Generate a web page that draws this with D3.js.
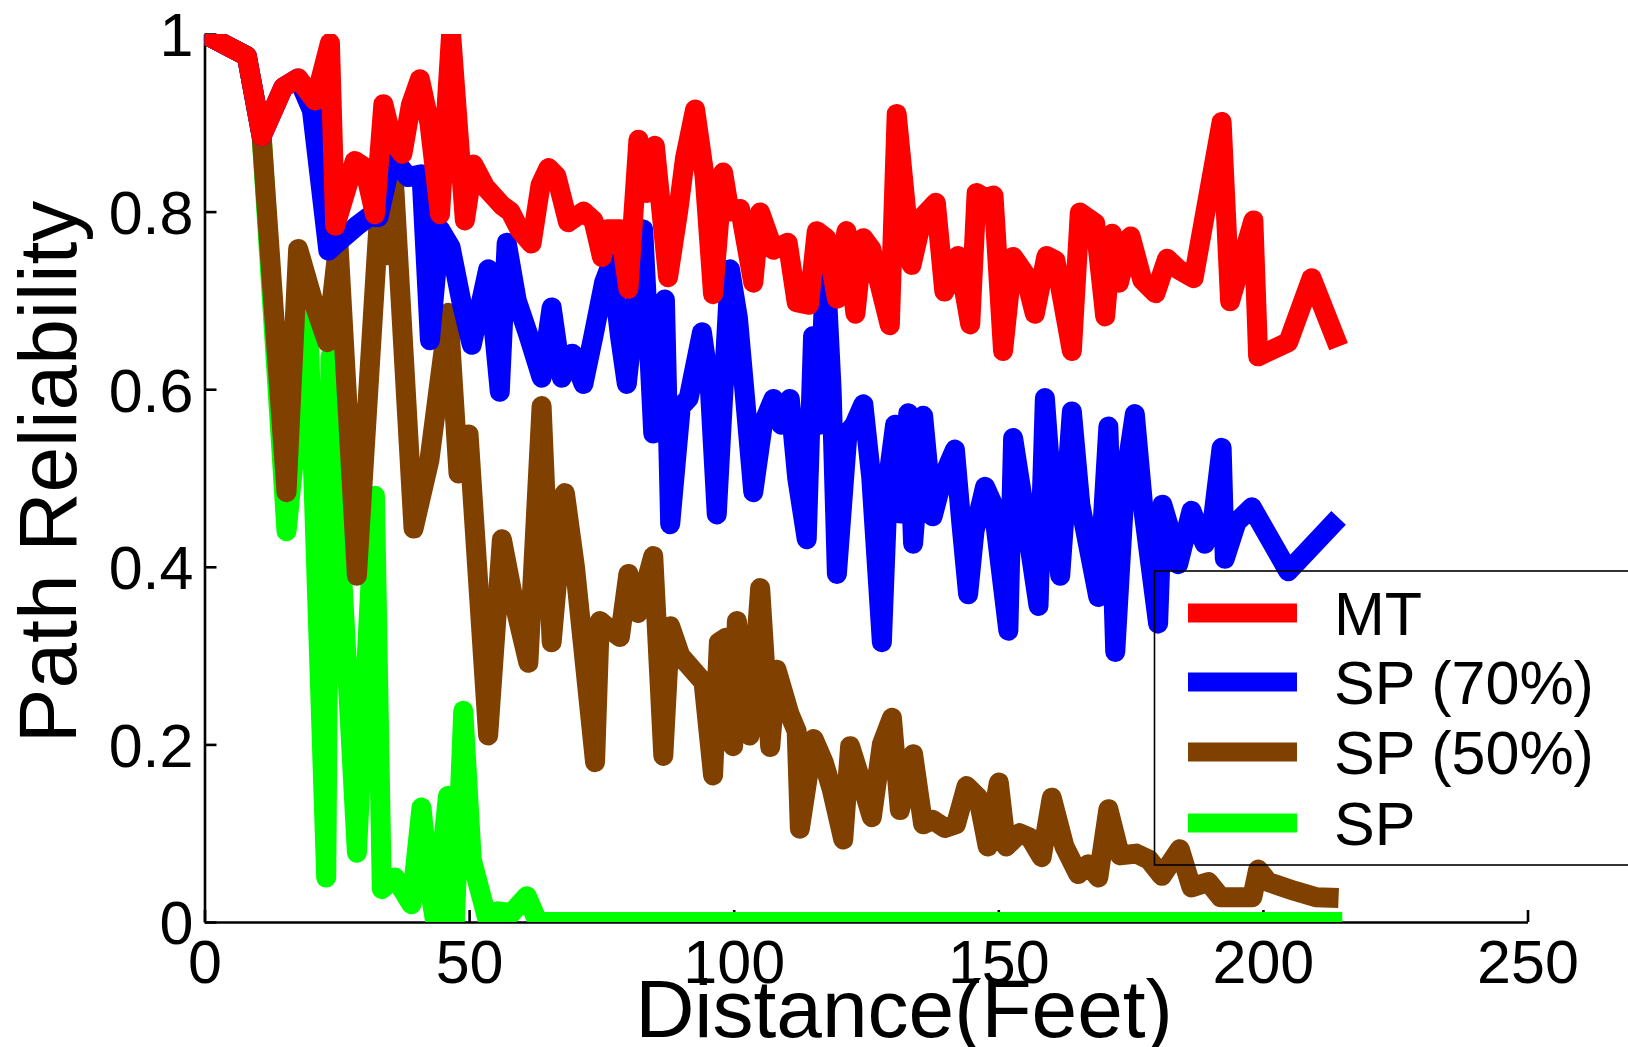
<!DOCTYPE html>
<html>
<head>
<meta charset="utf-8">
<script src="https://cdn.jsdelivr.net/npm/d3@7"></script>
<style>
  html, body { margin: 0; padding: 0; background: #fff; }
  svg { display: block; }
  text { font-family: "Liberation Sans", Arial, Helvetica, sans-serif; fill: #000; }
</style>
</head>
<body>
<svg id="chart" width="1628" height="1047"></svg>
<script>
// ---------------- data ----------------
const seriesNames = ["MT", "SP (70%)", "SP (50%)", "SP"];
const seriesColors = ["#ff0000", "#0000ff", "#804000", "#00ff00"];

const xTicks = [0, 50, 100, 150, 200, 250];
const yTicks = [0, 0.2, 0.4, 0.6, 0.8, 1];
const xLabel = "Distance(Feet)";
const yLabel = "Path Reliability";

const mtX = [0, 8, 10.8, 14.9, 17.7, 20.9, 23.7, 24.7, 28.4, 30.2, 32.2, 33.8, 35.5, 37.4, 39, 40.7, 42.5, 44.5, 46.6, 49.2,
  50.8, 53, 56.2, 57.8, 59.6, 61.8, 63.5, 65, 66.5, 68.7, 71.6, 73.5, 75.1, 76.1, 78.5, 80.1, 82, 83.6, 85.1, 87.6,
  89.5, 90.8, 92.7, 94.5, 96.1, 98, 99.2, 101.2, 103.7, 105, 107.5, 110.2, 111.9, 114.2, 115.7, 117.5, 119.5, 121.3, 123, 124.5,
  126, 127.5, 129.5, 130.8, 133.6, 135.7, 138.2, 139.8, 142.4, 144.7, 145.9, 147.5, 149.1, 150.9, 152.8, 155, 156.9, 159.1, 160.8, 163.9,
  165.4, 168.3, 170.2, 171.5, 172.8, 175, 177.2, 179.7, 181.9, 184, 186.9, 192.2, 193.8, 198.2, 199.1, 204.8, 209.2, 214.3];
const mtY = [1.0, 0.975, 0.885, 0.94, 0.95, 0.925, 0.99, 0.784, 0.857, 0.85, 0.797, 0.921, 0.88, 0.865, 0.92, 0.949, 0.90, 0.797, 1.0, 0.79,
  0.853, 0.828, 0.807, 0.80, 0.779, 0.764, 0.83, 0.849, 0.84, 0.788, 0.80, 0.79, 0.749, 0.78, 0.78, 0.713, 0.881, 0.821, 0.874, 0.726,
  0.80, 0.86, 0.915, 0.84, 0.707, 0.844, 0.80, 0.803, 0.72, 0.799, 0.757, 0.765, 0.698, 0.695, 0.778, 0.77, 0.702, 0.778, 0.685, 0.77,
  0.758, 0.72, 0.672, 0.91, 0.74, 0.794, 0.81, 0.71, 0.75, 0.673, 0.821, 0.815, 0.818, 0.643, 0.749, 0.73, 0.685, 0.75, 0.745, 0.643,
  0.799, 0.787, 0.682, 0.775, 0.72, 0.772, 0.723, 0.708, 0.747, 0.735, 0.725, 0.901, 0.699, 0.79, 0.637, 0.653, 0.725, 0.648];

const sp70X = [0, 8, 10.8, 14.9, 17.7, 20.3, 23.4, 25.3, 29, 31, 32.9, 35.4, 38.5, 41, 42.6, 44.5, 46.5, 48.5, 50.5, 53.6,
  55.8, 57.1, 59, 61.2, 63.7, 65.6, 67.5, 69.5, 71.6, 73.5, 75.5, 76.9, 78.5, 79.8, 81.5, 82.9, 84.8, 87, 88, 90,
  91.5, 94, 95.5, 96.8, 99.3, 100.8, 102, 103.7, 105.5, 107.5, 109, 110.6, 112, 113.8, 115, 116.2, 117.3, 118.5, 119.5, 121.5,
  122.8, 124.5, 126, 128, 129.2, 130.5, 131.5, 133, 133.9, 135.8, 137.6, 139.5, 141.8, 143, 144.3, 145.5, 147.5, 149, 151.9, 152.8,
  154.5, 157.6, 158.8, 160.3, 161.7, 163.9, 165.5, 168.9, 170.8, 172.1, 174, 175.8, 177.5, 180.2, 181, 182.5, 184, 186.5, 189, 190.5,
  192.2, 192.8, 195, 197.9, 204.8, 214.3];
const sp70Y = [1.0, 0.975, 0.885, 0.94, 0.95, 0.914, 0.756, 0.766, 0.785, 0.794, 0.794, 0.861, 0.839, 0.842, 0.655, 0.78, 0.76, 0.70, 0.65, 0.735,
  0.597, 0.765, 0.70, 0.661, 0.613, 0.692, 0.613, 0.64, 0.606, 0.66, 0.72, 0.742, 0.66, 0.606, 0.70, 0.78, 0.55, 0.701, 0.448, 0.58,
  0.59, 0.664, 0.60, 0.459, 0.735, 0.68, 0.60, 0.484, 0.56, 0.589, 0.56, 0.589, 0.50, 0.431, 0.66, 0.56, 0.745, 0.60, 0.392, 0.55,
  0.56, 0.583, 0.50, 0.315, 0.50, 0.56, 0.46, 0.573, 0.426, 0.57, 0.457, 0.50, 0.532, 0.45, 0.369, 0.44, 0.49, 0.47, 0.328, 0.545,
  0.48, 0.356, 0.59, 0.47, 0.39, 0.575, 0.47, 0.366, 0.558, 0.304, 0.50, 0.572, 0.46, 0.336, 0.47, 0.44, 0.403, 0.463, 0.426, 0.45,
  0.534, 0.409, 0.45, 0.467, 0.395, 0.455];

const sp50X = [0, 8, 10.8, 15.5, 17.7, 20.5, 23.2, 25.3, 28.8, 32.9, 33.8, 35.6, 39.5, 42.5, 46.1, 48, 49.9, 53.6, 56.2, 58.5,
  61.2, 63.7, 65.6, 68.1, 70, 73.8, 74.7, 76.5, 78.5, 80.1, 81.9, 84.8, 86.7, 88, 89.9, 94.3, 96.1, 97.2, 98.5, 99.9,
  100.6, 103, 105, 106.9, 108.1, 110.5, 111.9, 112.5, 115.1, 117, 118.5, 120.7, 122, 124, 126.1, 128, 129.9, 131.4, 133.9, 135.8,
  137.6, 139.9, 142, 144, 146.2, 148, 150.1, 151.5, 154, 156, 158.2, 160.1, 162.5, 165.1, 167, 168.9, 170.8, 173, 176.1, 178.5,
  180.9, 184.3, 186.5, 189.7, 192, 198, 199.1, 201, 206, 210, 214.3];
const sp50Y = [1.0, 0.975, 0.885, 0.484, 0.758, 0.70, 0.653, 0.765, 0.39, 0.787, 0.75, 0.855, 0.443, 0.52, 0.686, 0.505, 0.549, 0.21, 0.431, 0.36,
  0.292, 0.581, 0.315, 0.483, 0.40, 0.18, 0.339, 0.33, 0.321, 0.392, 0.348, 0.412, 0.187, 0.333, 0.30, 0.27, 0.165, 0.315, 0.32, 0.198,
  0.339, 0.21, 0.376, 0.197, 0.284, 0.235, 0.215, 0.105, 0.206, 0.18, 0.15, 0.093, 0.198, 0.16, 0.118, 0.20, 0.23, 0.126, 0.189, 0.11,
  0.115, 0.106, 0.11, 0.153, 0.14, 0.085, 0.157, 0.085, 0.10, 0.095, 0.073, 0.14, 0.085, 0.054, 0.065, 0.05, 0.127, 0.075, 0.077, 0.07,
  0.052, 0.082, 0.039, 0.045, 0.028, 0.028, 0.059, 0.045, 0.035, 0.028, 0.027];

const spX = [0, 8, 10.8, 15.5, 19.6, 23.0, 23.8, 28.8, 32.2, 33.5, 36, 39.1, 41, 42.5, 43.6, 46, 47.3, 48.9, 50.5, 53.6,
  55.5, 58, 60.9, 63, 215];
const spY = [1.0, 0.975, 0.885, 0.44, 0.679, 0.05, 0.637, 0.078, 0.48, 0.037, 0.05, 0.02, 0.129, 0.04, 0.0, 0.142, 0.0, 0.238, 0.07, 0.0,
  0.012, 0.01, 0.029, 0.0, 0.0];

// ---------------- layout ----------------
const svg = d3.select("#chart");
const x = d3.scaleLinear().domain([0, 250]).range([204.5, 1527.5]);
const y = d3.scaleLinear().domain([0, 1]).range([922, 34]);

svg.append("defs").append("clipPath").attr("id", "plotclip")
  .append("rect")
  .attr("x", x(0)).attr("y", y(1))
  .attr("width", x(250) - x(0)).attr("height", y(0) - y(1));

// axes (drawn first, lines over them)
const xAxis = d3.axisBottom(x).tickValues(xTicks).tickSize(-12).tickSizeOuter(0).tickPadding(18)
  .tickFormat(d3.format("d"));
const yAxis = d3.axisLeft(y).tickValues(yTicks).tickSize(-12).tickSizeOuter(0).tickPadding(11)
  .tickFormat(d => d === 0 ? "0" : d === 1 ? "1" : d3.format(".1f")(d));

const gx = svg.append("g").attr("transform", `translate(0,${y(0)})`).call(xAxis);
const gy = svg.append("g").attr("transform", `translate(${x(0)},0)`).call(yAxis);
[gx, gy].forEach(g => {
  g.select(".domain").attr("stroke", "#000").attr("stroke-width", 2.6);
  g.selectAll(".tick line").attr("stroke", "#000").attr("stroke-width", 2.6);
  g.selectAll(".tick text").attr("font-size", 61).attr("fill", "#000")
    .style("font-family", '"Liberation Sans", Arial, sans-serif');
});
gy.selectAll(".tick text").attr("dy", "0.36em");

// lines
const line = d3.line().x(d => x(d[0])).y(d => y(d[1]));
const allSeries = [
  { xs: mtX, ys: mtY },
  { xs: sp70X, ys: sp70Y },
  { xs: sp50X, ys: sp50Y },
  { xs: spX, ys: spY }
];
const lineG = svg.append("g").attr("clip-path", "url(#plotclip)");
// draw order: SP (bottom), SP 50%, SP 70%, MT (top)
[3, 2, 1, 0].forEach(i => {
  const s = allSeries[i];
  const pts = s.xs.map((v, k) => [v, s.ys[k]]);
  lineG.append("path")
    .attr("d", line(pts))
    .attr("fill", "none")
    .attr("stroke", seriesColors[i])
    .attr("stroke-width", 20)
    .attr("stroke-linejoin", "round")
    .attr("stroke-linecap", "butt");
});

// axis titles
svg.append("text")
  .attr("x", 904).attr("y", 1037)
  .attr("text-anchor", "middle")
  .attr("font-size", 82)
  .text(xLabel);

svg.append("text")
  .attr("transform", "translate(76,472) rotate(-90)")
  .attr("text-anchor", "middle")
  .attr("font-size", 82)
  .text(yLabel);

// legend
const leg = svg.append("g");
leg.append("rect")
  .attr("x", 1154.5).attr("y", 571)
  .attr("width", 520).attr("height", 294)
  .attr("fill", "none").attr("stroke", "#000").attr("stroke-width", 1.6);
const rowY = [613, 682, 752, 823];
seriesNames.forEach((name, i) => {
  leg.append("line")
    .attr("x1", 1188).attr("x2", 1297)
    .attr("y1", rowY[i]).attr("y2", rowY[i])
    .attr("stroke", seriesColors[i]).attr("stroke-width", 19);
  leg.append("text")
    .attr("x", 1334).attr("y", rowY[i] + 22)
    .attr("font-size", 61)
    .text(name);
});
</script>
</body>
</html>
